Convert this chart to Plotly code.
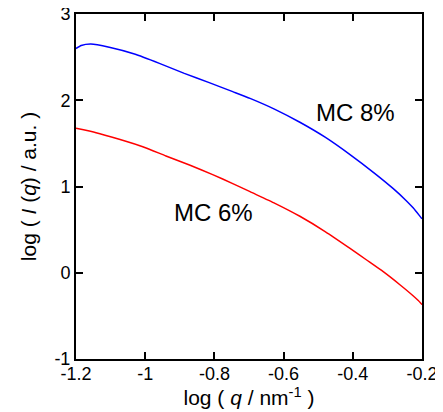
import plotly.graph_objects as go

# log q (nm^-1) and log I (a.u.)
q_mc8 = [-1.2, -1.185, -1.157, -1.104, -1.031, -0.959, -0.887, -0.815, -0.747,
         -0.697, -0.625, -0.553, -0.48, -0.408, -0.336, -0.283, -0.244,
         -0.225, -0.204, -0.2]
i_mc8 = [2.60, 2.635, 2.652, 2.614, 2.536, 2.428, 2.312, 2.204, 2.10,
         2.022, 1.895, 1.745, 1.572, 1.37, 1.15, 0.975, 0.83,
         0.75, 0.645, 0.625]

q_mc6 = [-1.2, -1.142, -1.075, -1.007, -0.94, -0.872, -0.805, -0.747, -0.697,
         -0.625, -0.553, -0.48, -0.408, -0.36, -0.312, -0.263, -0.225, -0.204, -0.2]
i_mc6 = [1.675, 1.624, 1.547, 1.461, 1.354, 1.249, 1.138, 1.034, 0.94,
         0.805, 0.655, 0.478, 0.283, 0.148, 0.012, -0.142, -0.27, -0.35, -0.37]

x_ticks = [-1.2, -1.0, -0.8, -0.6, -0.4, -0.2]
x_ticktext = ["-1.2", "-1", "-0.8", "-0.6", "-0.4", "-0.2"]
y_ticks = [-1, 0, 1, 2, 3]
y_ticktext = ["-1", "0", "1", "2", "3"]

labels = ["MC 8%", "MC 6%"]
label_x = [-0.391, -0.804]
label_y = [1.854, 0.704]

font = "Liberation Sans, Arial, sans-serif"

fig = go.Figure()
fig.add_trace(go.Scatter(x=q_mc8, y=i_mc8, mode="lines",
                         line=dict(color="#0000ff", width=1.5, shape="spline", smoothing=0.5),
                         showlegend=False))
fig.add_trace(go.Scatter(x=q_mc6, y=i_mc6, mode="lines",
                         line=dict(color="#ff0000", width=1.5, shape="spline", smoothing=0.5),
                         showlegend=False))

for t, lx, ly in zip(labels, label_x, label_y):
    fig.add_annotation(x=lx, y=ly, text=t, showarrow=False,
                       font=dict(family=font, size=24, color="black"))

axis_common = dict(showline=True, linecolor="black", linewidth=2, mirror="ticks",
                   ticks="inside", ticklen=7, tickwidth=1.5, tickcolor="black",
                   showgrid=False, zeroline=False, automargin=False,
                   ticklabeloverflow="allow",
                   tickfont=dict(family=font, size=18, color="black"))

fig.update_xaxes(range=[-1.2, -0.2], tickvals=x_ticks, ticktext=x_ticktext,
                 ticklabelstandoff=-3,
                 title=dict(text="log ( <i>q</i> / nm<sup>-1</sup> )",
                            font=dict(family=font, size=21, color="black"), standoff=0),
                 **axis_common)
fig.update_yaxes(range=[-1, 3], tickvals=y_ticks, ticktext=y_ticktext,
                 title=dict(text="log ( <i>I</i> (<i>q</i>) / a.u. )",
                            font=dict(family=font, size=21, color="black"), standoff=12),
                 **axis_common)

# page body adds an 8 px offset; the figure is sized to fill the rest of the window
fig.update_layout(width=435, height=404,
                  margin=dict(l=68, r=21, t=6, b=53),
                  paper_bgcolor="white", plot_bgcolor="white")

fig.write_html("out.html")
